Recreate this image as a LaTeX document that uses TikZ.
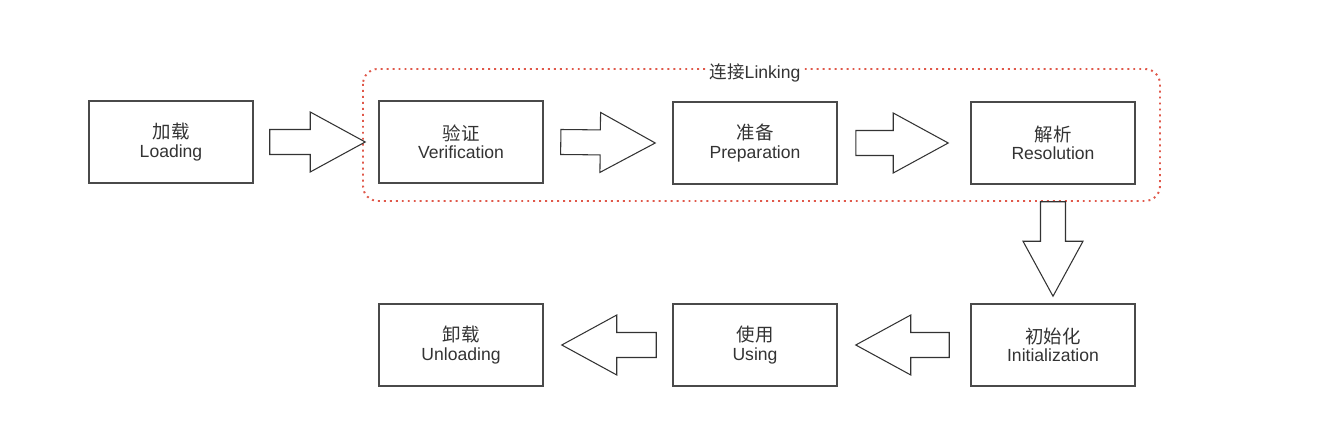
\documentclass[tikz,border=0pt]{standalone}
\usepackage{fontspec}
\setmainfont{Liberation Sans}
\newfontfamily\cjk{Noto Sans CJK SC}
\usetikzlibrary{calc}

\definecolor{linkred}{HTML}{E0584A}
\definecolor{boxgray}{HTML}{4A4A4A}

\tikzset{
  stage/.style={draw=boxgray,line width=0.9pt,minimum width=3.28cm,minimum height=1.64cm,
    align=center,text=black!80,font=\fontsize{10}{10.5}\selectfont},
  hollow/.style={draw=black!80,line width=0.6pt,fill=white,line join=miter},
  linkframe/.style={draw=linkred,line width=1.1pt,dash pattern=on 1.1pt off 2.3pt,rounded corners=0.3cm},
}

% hollow block arrow from #1 (tail) to #2 (tip)
\newcommand{\stagearrow}[2]{%
  \coordinate (hb) at ($(#2)!1.1cm!(#1)$);
  \path[hollow] ($(#1)!0.25cm!90:(#2)$) -- ($(hb)!0.25cm!90:(#2)$) -- ($(hb)!0.6cm!90:(#2)$)
    -- (#2) -- ($(hb)!0.6cm!-90:(#2)$) -- ($(hb)!0.25cm!-90:(#2)$) -- ($(#1)!0.25cm!-90:(#2)$) -- cycle;
}

\begin{document}
\begin{tikzpicture}[x=0.02cm,y=-0.02cm]
\useasboundingbox[fill=white] (0,0) rectangle (1322,448);

%linking frame
\path[linkframe] (363,69) rectangle (1160,201);
\node[fill=white,inner sep=1pt,text=black!80,font=\fontsize{10}{11}\selectfont] (linking) at (755,73) {{\cjk 连接}Linking};

%stages
\foreach \n/\x/\y/\cn/\en in {load/171/142/加载/Loading, verify/461/142/验证/Verification,
    prepare/755/143/准备/Preparation, resolve/1053/143/解析/Resolution,
    init/1053/345/初始化/Initialization, use/755/345/使用/Using, unload/461/345/卸载/Unloading}{
    \node[stage] (\n) at (\x,\y) {{\cjk\fontsize{10.5}{10.5}\selectfont \cn}\\\en};
}

%arrows
\coordinate (a1s) at ([xshift=0.32cm]load.east);
\coordinate (a1e) at ([xshift=-0.26cm]verify.west);
\coordinate (a2s) at ([xshift=0.34cm]verify.east);
\coordinate (a2e) at ([xshift=-0.34cm]prepare.west);
\coordinate (a3s) at ([xshift=0.36cm]prepare.east);
\coordinate (a3e) at ([xshift=-0.44cm]resolve.west);
\coordinate (a4s) at ([yshift=-0.34cm]resolve.south);
\coordinate (a4e) at ([yshift=0.14cm]init.north);
\coordinate (a5s) at ([xshift=-0.42cm]init.west);
\coordinate (a5e) at ([xshift=0.36cm]use.east);
\coordinate (a6s) at ([xshift=-0.32cm]use.west);
\coordinate (a6e) at ([xshift=0.36cm]unload.east);
\foreach \a in {a1,a2,a3,a4,a5,a6}{
    \stagearrow{\a s}{\a e}
}

\end{tikzpicture}
\end{document}
